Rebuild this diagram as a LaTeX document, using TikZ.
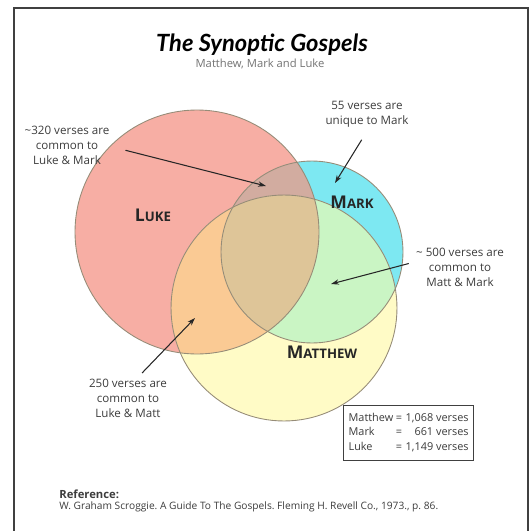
\documentclass[tikz,border=0pt]{standalone}
\usepackage{fontspec}
\setmainfont{Open Sans}
\newfontfamily\titlefont{Lato}
\usepackage{tikz}
\usetikzlibrary{arrows.meta,positioning,calc}
\definecolor{lukeRed}{RGB}{247,174,164}
\definecolor{markCyan}{RGB}{125,232,242}
\definecolor{mattYellow}{RGB}{255,251,198}
\definecolor{lukeMark}{RGB}{210,172,160}
\definecolor{lukeMatt}{RGB}{250,202,148}
\definecolor{markMatt}{RGB}{202,245,196}
\definecolor{allThree}{RGB}{222,197,152}
\definecolor{rimGray}{RGB}{150,140,120}
\definecolor{textGray}{RGB}{60,60,60}
\frenchspacing

\begin{document}
\begin{tikzpicture}[
                x=0.02cm,y=-0.02cm,
                note/.style={font=\fontsize{6.6}{8.6}\selectfont,align=center,text=textGray,inner sep=1pt},
                gospel/.style={font=\bfseries,text=black!85,inner sep=0pt},
                arr/.style={-{Stealth[length=4.5pt,width=3pt]},semithick,black!85},
                rim/.style={draw=rimGray,line width=0.5pt}
            ]
                \useasboundingbox (0,0) rectangle (531,531);
                \begin{scope}
                    \clip (0,0) rectangle (531,531);
                    \draw[line width=1.2pt,black!75] (14,8) rectangle (528,545);
                \end{scope}
                % centres of the three gospels
                \coordinate (luke) at (197,232);
                \coordinate (mark) at (312,252);
                \coordinate (matt) at (284,308);
                \def\rLuke{2.44cm}
                \def\rMark{1.82cm}
                \def\rMatt{2.26cm}
                % plain fills
                \fill[lukeRed] (luke) circle[radius=\rLuke];
                \fill[markCyan] (mark) circle[radius=\rMark];
                \fill[mattYellow] (matt) circle[radius=\rMatt];
                % overlaps
                \begin{scope}
                    \clip (luke) circle[radius=\rLuke];
                    \fill[lukeMark] (mark) circle[radius=\rMark];
                    \fill[lukeMatt] (matt) circle[radius=\rMatt];
                \end{scope}
                \begin{scope}
                    \clip (mark) circle[radius=\rMark];
                    \fill[markMatt] (matt) circle[radius=\rMatt];
                    \clip (luke) circle[radius=\rLuke];
                    \fill[allThree] (matt) circle[radius=\rMatt];
                \end{scope}
                \draw[rim] (luke) circle[radius=\rLuke];
                \draw[rim] (mark) circle[radius=\rMark];
                \draw[rim] (matt) circle[radius=\rMatt];

                % titles
                \node[font=\titlefont\bfseries\itshape\fontsize{13.5}{15}\selectfont] (title) at (262,45) {The Synoptic Gospels};
                \node[font=\fontsize{6.4}{7}\selectfont,text=black!55] (subtitle) at (260,64) {Matthew, Mark and Luke};

                % circle names
                \node[gospel] (lukeName) at (153,215) {\fontsize{10}{10}\selectfont L\fontsize{7.5}{10}\selectfont UKE};
                \node[gospel] (markName) at (352,202) {\fontsize{10}{10}\selectfont M\fontsize{7.5}{10}\selectfont ARK};
                \node[gospel] (mattName) at (322,352) {\fontsize{10}{10}\selectfont M\fontsize{7.5}{10}\selectfont ATTHEW};

                % notes and arrows
                \node[note] (lmNote) at (67,145) {\textasciitilde320 verses are\\common to\\Luke \& Mark};
                \coordinate (lmTip) at (266,186);
                \draw[arr] ([xshift=8pt,yshift=-3pt]lmNote.east) -- (lmTip);

                \node[note] (mkNote) at (367,114) {55 verses are\\unique to Mark};
                \coordinate (mkTip) at (335,183);
                \draw[arr] ([xshift=-3pt,yshift=-6pt]mkNote.south) -- (mkTip);

                \node[note] (mmNote) at (460,267) {\textasciitilde{} 500 verses are\\common to\\Matt \& Mark};
                \coordinate (mmTip) at (331,284);
                \draw[arr] ([xshift=-3pt,yshift=2pt]mmNote.west) -- (mmTip);

                \node[note] (ltNote) at (128,398) {250 verses are\\common to\\Luke \& Matt};
                \coordinate (ltTip) at (195,318);
                \draw[arr] ([xshift=8pt,yshift=2pt]ltNote.north) -- (ltTip);

                % verse totals
                \node[draw=black!75,fill=white,line width=0.7pt,anchor=north west,minimum width=2.6cm,minimum height=1.1cm,
                      inner sep=2pt,font=\fontsize{6.2}{8.2}\selectfont,text=textGray] (totals) at (343,405)
                      {\begin{tabular}{@{}l@{\hspace{1.5pt}}c@{\hspace{2pt}}r@{}}
                        Matthew & = & 1,068 verses\\
                        Mark & = & 661 verses\\
                        Luke & = & 1,149 verses
                       \end{tabular}};

                % reference
                \node[anchor=west,font=\bfseries\fontsize{6.4}{7}\selectfont,text=textGray,inner sep=0pt] (refHead) at (59,494) {Reference:};
                \node[anchor=west,font=\fontsize{5.8}{7}\selectfont,text=textGray,inner sep=0pt] (refText) at (59,507)
                      {W. Graham Scroggie. A Guide To The Gospels. Fleming H. Revell Co., 1973., p. 86.};
            \end{tikzpicture}
\end{document}
